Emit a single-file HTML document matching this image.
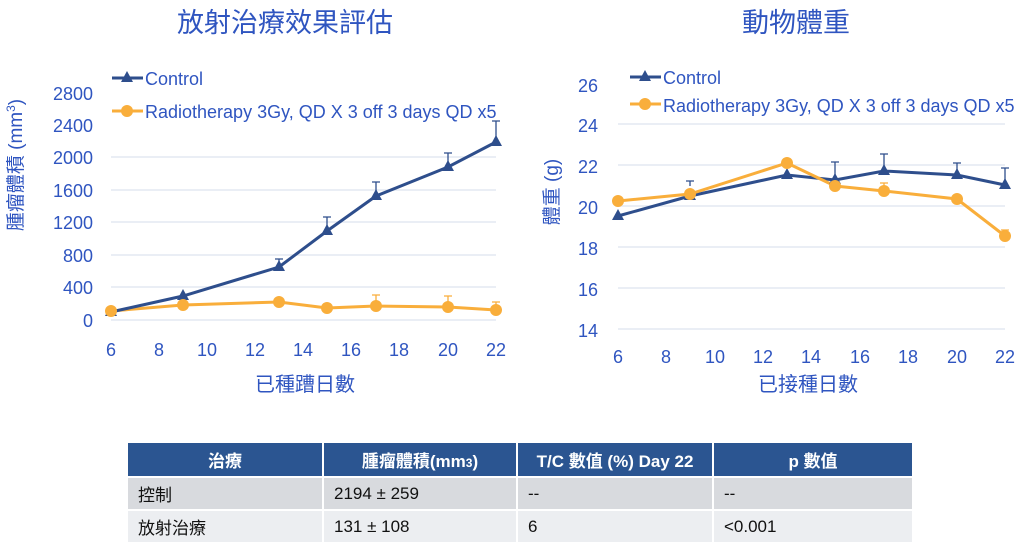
<!DOCTYPE html>
<html><head><meta charset="utf-8"><style>
body{margin:0;width:1034px;height:551px;background:#fff;overflow:hidden;font-family:"Liberation Sans","Noto Sans CJK TC",sans-serif}
svg{position:absolute;left:0;top:0}
table{position:absolute;left:126px;top:441px;width:786px;table-layout:fixed;border-collapse:separate;border-spacing:2px;font-family:"Liberation Sans","Noto Sans CJK TC",sans-serif;font-size:17px}
td{height:31px;padding:0 10px;color:#111;vertical-align:middle}
th{height:31px;background:#2b5591;color:#fff;font-weight:bold;font-size:17px;vertical-align:middle}
tr.a td{background:#d8dade}
tr.b td{background:#eceef1}
</style></head><body>
<svg width="1034" height="551" font-family="Liberation Sans, Noto Sans CJK TC, sans-serif">
<text x="285" y="32" text-anchor="middle" font-size="27" fill="#2f55c0">放射治療效果評估</text>
<text x="796" y="32" text-anchor="middle" font-size="27" fill="#2f55c0">動物體重</text>
<g stroke="#e3e8f2" stroke-width="1.5">
<line x1="111" x2="496" y1="157" y2="157"/><line x1="111" x2="496" y1="190" y2="190"/><line x1="111" x2="496" y1="222" y2="222"/><line x1="111" x2="496" y1="255" y2="255"/><line x1="111" x2="496" y1="287" y2="287"/><line x1="111" x2="496" y1="320" y2="320"/>
<line x1="618" x2="1005" y1="124" y2="124"/><line x1="618" x2="1005" y1="165" y2="165"/><line x1="618" x2="1005" y1="206" y2="206"/><line x1="618" x2="1005" y1="247" y2="247"/><line x1="618" x2="1005" y1="288" y2="288"/><line x1="618" x2="1005" y1="329" y2="329"/>
</g>
<g font-size="18" fill="#2f55c0" text-anchor="end">
<text x="93" y="100">2800</text><text x="93" y="132">2400</text><text x="93" y="164">2000</text><text x="93" y="197">1600</text><text x="93" y="229">1200</text><text x="93" y="262">800</text><text x="93" y="294">400</text><text x="93" y="327">0</text>
<text x="598" y="92">26</text><text x="598" y="132">24</text><text x="598" y="173">22</text><text x="598" y="214">20</text><text x="598" y="255">18</text><text x="598" y="296">16</text><text x="598" y="337">14</text>
</g>
<g font-size="18" fill="#2f55c0" text-anchor="middle">
<text x="111" y="356">6</text><text x="159" y="356">8</text><text x="207" y="356">10</text><text x="255" y="356">12</text><text x="303" y="356">14</text><text x="351" y="356">16</text><text x="399" y="356">18</text><text x="448" y="356">20</text><text x="496" y="356">22</text>
<text x="618" y="363">6</text><text x="666" y="363">8</text><text x="715" y="363">10</text><text x="763" y="363">12</text><text x="811" y="363">14</text><text x="860" y="363">16</text><text x="908" y="363">18</text><text x="957" y="363">20</text><text x="1005" y="363">22</text>
<text x="305" y="391" font-size="20">已種蹧日數</text>
<text x="808" y="391" font-size="20">已接種日數</text>
</g>
<text transform="translate(22,165) rotate(-90)" text-anchor="middle" font-size="19" fill="#2f55c0">腫瘤體積 (mm<tspan font-size="12" dy="-7">3</tspan><tspan dy="7">)</tspan></text>
<text transform="translate(558,192) rotate(-90)" text-anchor="middle" font-size="19" fill="#2f55c0">體重 (g)</text>
<line x1="112" x2="143" y1="78" y2="78" stroke="#2e4e8c" stroke-width="3"/><polygon points="127,71 121,82 133,82" fill="#2e4e8c"/>
<text x="145" y="85" font-size="18" fill="#2f55c0">Control</text>
<line x1="112" x2="143" y1="111" y2="111" stroke="#f9ae3b" stroke-width="3"/><circle cx="127" cy="111" r="6" fill="#f9ae3b"/>
<text x="145" y="118" font-size="18" fill="#2f55c0">Radiotherapy 3Gy, QD X 3 off 3 days QD x5</text>
<line x1="630" x2="661" y1="77" y2="77" stroke="#2e4e8c" stroke-width="3"/><polygon points="645,70 639,81 651,81" fill="#2e4e8c"/>
<text x="663" y="84" font-size="18" fill="#2f55c0">Control</text>
<line x1="630" x2="661" y1="104" y2="104" stroke="#f9ae3b" stroke-width="3"/><circle cx="645" cy="104" r="6" fill="#f9ae3b"/>
<text x="663" y="112" font-size="18" fill="#2f55c0">Radiotherapy 3Gy, QD X 3 off 3 days QD x5</text>
<g stroke="#2e4e8c" stroke-width="1.3">
<path d="M279,267V259M275,259h8M327,231V217M323,217h8M376,196V182M372,182h8M448,167V153M444,153h8M496,142V121M492,121h8"/>
</g>
<g stroke="#f9ae3b" stroke-width="1.3">
<path d="M327,308V304M323,304h8M376,306V295M372,295h8M448,307V296M444,296h8M496,310V302M492,302h8"/>
</g>
<polyline fill="none" stroke="#f9ae3b" stroke-width="3" points="111,311 183,305 279,302 327,308 376,306 448,307 496,310"/>
<polyline fill="none" stroke="#2e4e8c" stroke-width="3" points="111,312 183,296 279,267 327,231 376,196 448,167 496,142"/>
<g fill="#2e4e8c">
<polygon points="111,305 105,316 117,316"/><polygon points="183,289 177,300 189,300"/><polygon points="279,260 273,271 285,271"/><polygon points="327,224 321,235 333,235"/><polygon points="376,189 370,200 382,200"/><polygon points="448,160 442,171 454,171"/><polygon points="496,135 490,146 502,146"/>
</g>
<g fill="#f9ae3b">
<circle cx="111" cy="311" r="6"/><circle cx="183" cy="305" r="6"/><circle cx="279" cy="302" r="6"/><circle cx="327" cy="308" r="6"/><circle cx="376" cy="306" r="6"/><circle cx="448" cy="307" r="6"/><circle cx="496" cy="310" r="6"/>
</g>
<g stroke="#2e4e8c" stroke-width="1.3">
<path d="M690,186V181M686,181h8M835,180V162M831,162h8M884,171V154M880,154h8M957,175V163M953,163h8M1005,185V168M1001,168h8"/>
</g>
<g stroke="#f9ae3b" stroke-width="1.3">
<path d="M787,163V159M783,159h8M884,191V183M880,183h8M1005,236V230M1001,230h8"/>
</g>
<polyline fill="none" stroke="#2e4e8c" stroke-width="3" points="618,216 690,196 787,175 835,180 884,171 957,175 1005,185"/>
<polyline fill="none" stroke="#f9ae3b" stroke-width="3" points="618,201 690,194 787,163 835,186 884,191 957,199 1005,236"/>
<g fill="#2e4e8c">
<polygon points="618,209 612,220 624,220"/><polygon points="690,189 684,200 696,200"/><polygon points="787,168 781,179 793,179"/><polygon points="835,173 829,184 841,184"/><polygon points="884,164 878,175 890,175"/><polygon points="957,168 951,179 963,179"/><polygon points="1005,178 999,189 1011,189"/>
</g>
<g fill="#f9ae3b">
<circle cx="618" cy="201" r="6"/><circle cx="690" cy="194" r="6"/><circle cx="787" cy="163" r="6"/><circle cx="835" cy="186" r="6"/><circle cx="884" cy="191" r="6"/><circle cx="957" cy="199" r="6"/><circle cx="1005" cy="236" r="6"/>
</g>
</svg>
<table>
<colgroup><col style="width:194px"><col style="width:192px"><col style="width:194px"><col style="width:198px"></colgroup>
<tr><th>治療</th><th>腫瘤體積(mm<span style="font-size:12px">3</span>)</th><th>T/C 數值 (%) Day 22</th><th>p 數值</th></tr>
<tr class="a"><td>控制</td><td>2194 ± 259</td><td>--</td><td>--</td></tr>
<tr class="b"><td>放射治療</td><td>131 ± 108</td><td>6</td><td>&lt;0.001</td></tr>
</table>
</body></html>
